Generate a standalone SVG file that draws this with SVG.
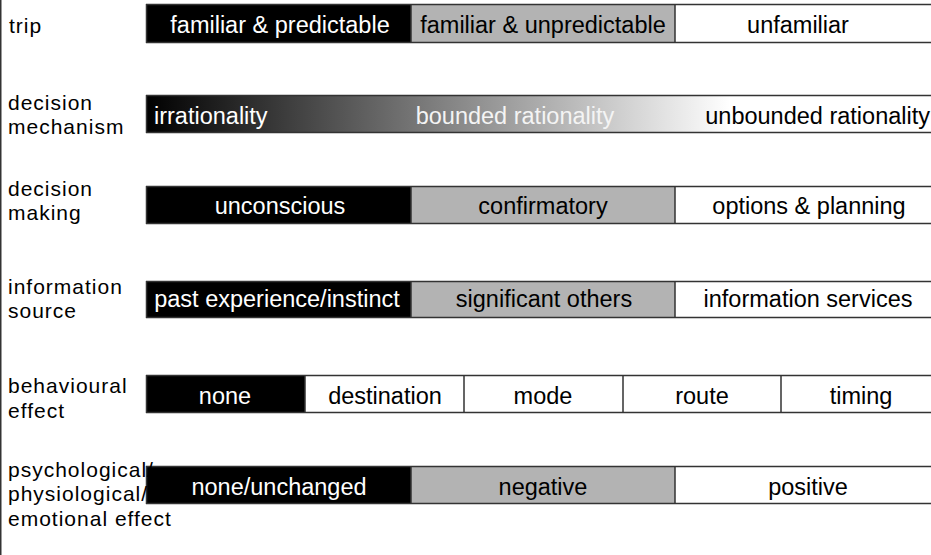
<svg xmlns="http://www.w3.org/2000/svg" width="931" height="555" viewBox="0 0 931 555">
<defs>
<linearGradient id="grad" gradientUnits="userSpaceOnUse" x1="146" y1="0" x2="730" y2="0">
<stop offset="0" stop-color="#000"/>
<stop offset="1" stop-color="#fff"/>
</linearGradient>
<style>
text{font-family:"Liberation Sans",Arial,sans-serif;font-size:23.5px;}
.lbl{fill:#000;font-size:21px;letter-spacing:1px;}
.c{text-anchor:middle;}
.w{fill:#fff;}
.k{fill:#000;}
.blk{fill:#000;}
.gry{fill:#b3b3b3;}
.wht{fill:#fff;}
.edge{stroke:#333;stroke-width:1.5;fill:none;}
</style>
</defs>
<rect x="0" y="0" width="931" height="555" fill="#fff"/>
<line x1="0.75" y1="0" x2="0.75" y2="555" stroke="#333" stroke-width="1.5"/>

<g id="row-trip">
<rect class="blk" x="146" y="4" width="265" height="39"/>
<rect class="gry" x="411" y="4" width="264" height="39"/>
<rect class="wht" x="675" y="4" width="264" height="39"/>
<path class="edge" d="M146,4.5H931M146,42.5H931M411,4V43M675,4V43M146.5,4V43"/>
<text class="w c" x="280" y="33">familiar &amp; predictable</text>
<text class="k c" x="543" y="33">familiar &amp; unpredictable</text>
<text class="k c" x="798" y="33">unfamiliar</text>
<text class="lbl" x="9" y="33">trip</text>
</g>

<g id="row-mechanism">
<rect fill="url(#grad)" x="146" y="95" width="793" height="38"/>
<path class="edge" d="M146,95.5H931M146,132.5H931M146.5,95V133"/>
<text class="w" x="154" y="124">irrationality</text>
<text class="c" x="515" y="124" fill="#f4f4f4">bounded rationality</text>
<text class="k" x="930" y="124" text-anchor="end">unbounded rationality</text>
<text class="lbl" x="8" y="110">decision</text>
<text class="lbl" x="8" y="134">mechanism</text>
</g>

<g id="row-making">
<rect class="blk" x="146" y="186" width="265" height="38"/>
<rect class="gry" x="411" y="186" width="264" height="38"/>
<rect class="wht" x="675" y="186" width="264" height="38"/>
<path class="edge" d="M146,186.5H931M146,223.5H931M411,186V224M675,186V224M146.5,186V224"/>
<text class="w c" x="280" y="214">unconscious</text>
<text class="k c" x="543" y="214">confirmatory</text>
<text class="k c" x="809" y="214">options &amp; planning</text>
<text class="lbl" x="8" y="196">decision</text>
<text class="lbl" x="8" y="220">making</text>
</g>

<g id="row-source">
<rect class="blk" x="146" y="281" width="265" height="37"/>
<rect class="gry" x="411" y="281" width="264" height="37"/>
<rect class="wht" x="675" y="281" width="264" height="37"/>
<path class="edge" d="M146,281.5H931M146,317.5H931M411,281V318M675,281V318M146.5,281V318"/>
<text class="w c" x="277" y="307">past experience/instinct</text>
<text class="k c" x="544" y="307">significant others</text>
<text class="k c" x="808" y="307">information services</text>
<text class="lbl" x="8" y="294">information</text>
<text class="lbl" x="8" y="318">source</text>
</g>

<g id="row-behavioural">
<rect class="blk" x="146" y="375" width="159" height="38"/>
<rect class="wht" x="305" y="375" width="634" height="38"/>
<path class="edge" d="M146,375.5H931M146,412.5H931M305,375V413M464,375V413M623,375V413M781,375V413M146.5,375V413"/>
<text class="w c" x="225" y="404">none</text>
<text class="k c" x="385" y="404">destination</text>
<text class="k c" x="543" y="404">mode</text>
<text class="k c" x="702" y="404">route</text>
<text class="k c" x="861" y="404">timing</text>
<text class="lbl" x="8" y="393">behavioural</text>
<text class="lbl" x="8" y="418">effect</text>
</g>

<g id="row-psychological">
<rect class="blk" x="146" y="466" width="265" height="38"/>
<rect class="gry" x="411" y="466" width="264" height="38"/>
<rect class="wht" x="675" y="466" width="264" height="38"/>
<path class="edge" d="M146,466.5H931M146,503.5H931M411,466V504M675,466V504M146.5,466V504"/>
<text class="w c" x="279" y="495">none/unchanged</text>
<text class="k c" x="543" y="495">negative</text>
<text class="k c" x="808" y="495">positive</text>
<text class="lbl" x="8" y="477">psychological/</text>
<text class="lbl" x="8" y="501">physiological/</text>
<text class="lbl" x="8" y="526">emotional effect</text>
</g>
</svg>
